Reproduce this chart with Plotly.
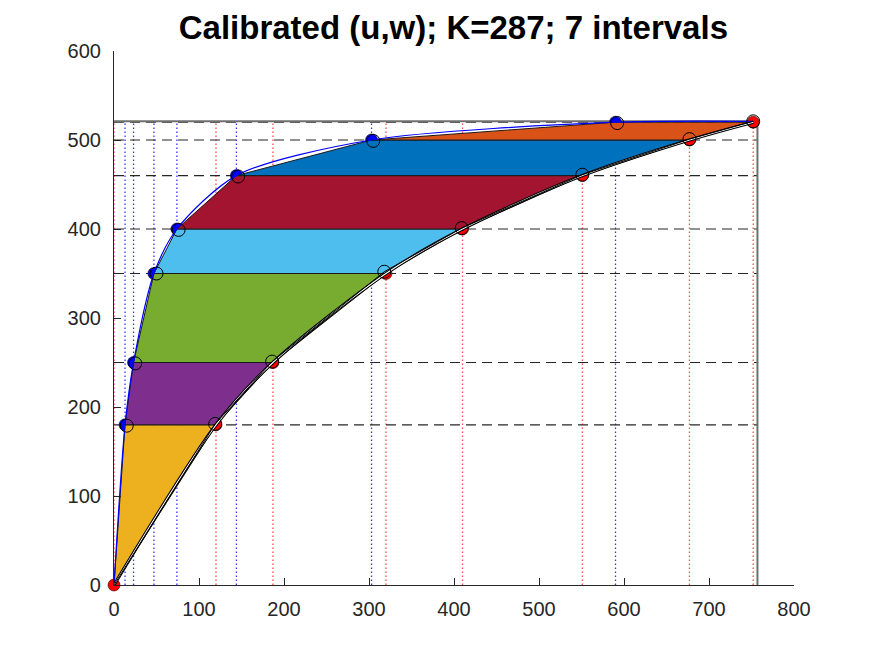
import plotly.graph_objects as go

# interval levels (w) and the left / right boundary points (u)
levels = [0, 180, 250, 350, 400, 460, 500, 520]
left_u = [0, 13, 23, 47, 74, 144, 303, 590]
right_u = [0, 120, 187, 320, 410, 551, 677, 752]

# calibrated (black open circles)
cal_left_u = [15, 25, 50, 76, 146, 305, 592]
cal_left_w = [179, 249, 350, 399, 459, 499, 519]
cal_right_u = [119, 186, 318, 409, 551, 677, 752]
cal_right_w = [181, 251, 352, 401, 461, 501, 521]

u_max = 757
w_max = 521

band_colors = ["#EDB120", "#7E2F8E", "#77AC30", "#4DBEEE", "#A2142F", "#0072BD", "#D95319"]

fig = go.Figure()

# dotted verticals and dashed horizontals (under the patches)
for u in left_u[1:]:
    fig.add_trace(go.Scatter(x=[u, u], y=[0, w_max], mode="lines",
                             line=dict(color="rgba(0,0,255,0.8)", width=1.3, dash="1.5px,2.5px"),
                             hoverinfo="skip"))
for u in right_u:
    fig.add_trace(go.Scatter(x=[u, u], y=[0, w_max], mode="lines",
                             line=dict(color="rgba(255,0,0,0.7)", width=1.3, dash="1.5px,2.5px"),
                             hoverinfo="skip"))
for w in levels[1:]:
    fig.add_trace(go.Scatter(x=[0, u_max], y=[w, w], mode="lines",
                             line=dict(color="#262626", width=1.2, dash="10px,6px"),
                             hoverinfo="skip"))

# bounding box lines
fig.add_trace(go.Scatter(x=[0, u_max, u_max], y=[w_max, w_max, 0], mode="lines",
                         line=dict(color="#707070", width=2), hoverinfo="skip"))

# boundary points (drawn before the patches, so the patches cover part of them)
fig.add_trace(go.Scatter(x=left_u[1:], y=levels[1:], mode="markers", cliponaxis=False,
                         marker=dict(color="#0000ff", size=12, line=dict(color="#000033", width=0.6)),
                         hoverinfo="skip"))
fig.add_trace(go.Scatter(x=right_u, y=levels, mode="markers", cliponaxis=False,
                         marker=dict(color="#ff0000", size=12, line=dict(color="#330000", width=0.6)),
                         hoverinfo="skip"))

# interval patches
for i in range(len(levels) - 1):
    xs = [left_u[i], right_u[i], right_u[i + 1], left_u[i + 1], left_u[i]]
    ys = [levels[i], levels[i], levels[i + 1], levels[i + 1], levels[i]]
    fig.add_trace(go.Scatter(x=xs, y=ys, mode="lines", fill="toself",
                             fillcolor=band_colors[i],
                             line=dict(color="#1a1a1a", width=1), hoverinfo="skip"))

# smooth boundary curves
fig.add_trace(go.Scatter(x=left_u + [right_u[-1]], y=levels + [w_max], mode="lines",
                         line=dict(color="#0000ff", width=1.2, shape="spline", smoothing=0.8),
                         hoverinfo="skip"))
fig.add_trace(go.Scatter(x=right_u, y=levels, mode="lines",
                         line=dict(color="#000000", width=3.2, shape="spline", smoothing=0.8),
                         hoverinfo="skip"))
fig.add_trace(go.Scatter(x=right_u, y=levels, mode="lines",
                         line=dict(color="#ffffff", width=1.1, shape="spline", smoothing=0.8),
                         hoverinfo="skip"))
fig.add_trace(go.Scatter(x=[0] + cal_right_u, y=[0] + cal_right_w, mode="lines",
                         line=dict(color="#000000", width=1), hoverinfo="skip"))

# calibrated points
fig.add_trace(go.Scatter(x=cal_left_u + cal_right_u, y=cal_left_w + cal_right_w,
                         mode="markers", cliponaxis=False,
                         marker=dict(color="#000000", size=13, symbol="circle-open",
                                     line=dict(color="#000000", width=1)),
                         hoverinfo="skip"))

axis_style = dict(showgrid=False, zeroline=False, showline=True, linecolor="#262626",
                  linewidth=1.2, ticks="inside", ticklen=7, tickcolor="#262626",
                  tickfont=dict(family="Liberation Sans, Arial, sans-serif", size=20, color="#262626"),
                  dtick=100)

fig.update_layout(
    width=875, height=656,
    margin=dict(l=106, r=89, t=43, b=79),
    plot_bgcolor="white", paper_bgcolor="white",
    showlegend=False,
    title=dict(text="<b>Calibrated (u,w); K=287; 7 intervals</b>",
               x=0.509, xanchor="center", y=0.971, yanchor="middle",
               font=dict(family="Liberation Sans, Arial, sans-serif", size=33, color="#000000")),
    xaxis=dict(range=[0, 800], ticklabelstandoff=6, **axis_style),
    yaxis=dict(range=[0, 600], ticklabelstandoff=8, **axis_style),
)

fig.write_html("out.html")
